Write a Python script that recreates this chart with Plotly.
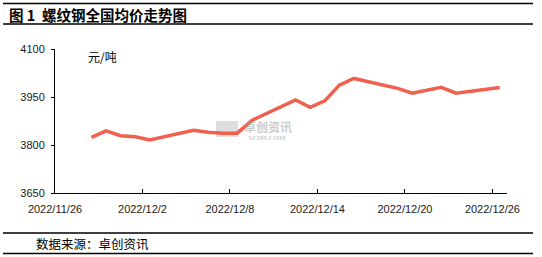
import plotly.graph_objects as go

# ---- data ----
dates = ["2022-11-28", "2022-11-29", "2022-11-30", "2022-12-01", "2022-12-02",
         "2022-12-05", "2022-12-06", "2022-12-07", "2022-12-08", "2022-12-09",
         "2022-12-12", "2022-12-13", "2022-12-14", "2022-12-15", "2022-12-16",
         "2022-12-19", "2022-12-20", "2022-12-21", "2022-12-22", "2022-12-23",
         "2022-12-26"]
prices = [3824, 3844, 3829, 3826, 3816,
          3846, 3840, 3837, 3837, 3877,
          3941, 3918, 3938, 3987, 4008,
          3977, 3962, 3971, 3980, 3962,
          3980]
title_text = "图 1  螺纹钢全国均价走势图"
unit_text = "元/吨"
source_text = "数据来源：卓创资讯"

# ---- layout geometry (pixels) ----
W, H = 542, 257
L, R, T, B = 55, 507, 49, 193


def px(x):
    return (x - L) / (R - L)


def py(y):
    return (B - y) / (B - T)


fig = go.Figure(go.Scatter(
    x=dates, y=prices, mode="lines",
    line=dict(color="#F0604E", width=3.5),
    xperiod=86400000, xperiodalignment="middle",
    hoverinfo="skip",
))

tickfont = dict(family="Liberation Sans, Arial, sans-serif", size=11, color="#1a1a1a")

fig.update_layout(
    width=W, height=H,
    margin=dict(l=L, r=W - R, t=T, b=H - B),
    paper_bgcolor="white", plot_bgcolor="white",
    showlegend=False,
    xaxis=dict(
        type="date", range=["2022-11-26", "2022-12-27"],
        tick0="2022-11-26", dtick=6 * 86400000, tickformat="%Y/%-m/%-d",
        ticks="inside", ticklen=4, tickcolor="black",
        ticklabelstandoff=6,
        showline=True, linecolor="black", linewidth=1,
        showgrid=False, zeroline=False, tickfont=tickfont,
        fixedrange=True,
    ),
    yaxis=dict(
        range=[3650, 4100], tick0=3650, dtick=150, tickformat="d",
        ticks="outside", ticklen=3, tickcolor="black",
        ticklabelstandoff=4,
        showline=True, linecolor="black", linewidth=1,
        showgrid=False, zeroline=False, tickfont=tickfont,
        fixedrange=True,
    ),
)

cjk = "Noto Sans CJK SC, sans-serif"
wm = "rgba(150,150,150,0.5)"
ann = [
    dict(text="<b>" + title_text + "</b>", x=px(7), y=py(14), xanchor="left", yanchor="middle",
         font=dict(family=cjk, size=14.5, color="black")),
    dict(text=unit_text, x=px(86), y=py(56), xanchor="left", yanchor="middle",
         font=dict(family=cjk, size=12, color="black")),
    dict(text=source_text, x=px(34), y=py(243), xanchor="left", yanchor="middle",
         font=dict(family=cjk, size=12.5, color="black")),
    # watermark
    dict(text="<b>卓创资讯</b>", x=px(242), y=py(126), xanchor="left", yanchor="middle",
         font=dict(family=cjk, size=12, color=wm)),
    dict(text="<b>SCI99.COM</b>", x=px(246), y=py(137.5), xanchor="left", yanchor="middle",
         font=dict(family="Liberation Serif, serif", size=7, color=wm)),
]
for a in ann:
    a.update(xref="paper", yref="paper", showarrow=False)
fig.update_layout(annotations=ann)

shapes = []
for yy in (3.5, 24, 233, 253.5):
    shapes.append(dict(type="line", xref="paper", yref="paper",
                       x0=px(3), x1=px(533), y0=py(yy), y1=py(yy),
                       line=dict(color="black", width=1.5)))
# watermark logo block
shapes.append(dict(type="rect", xref="paper", yref="paper",
                   x0=px(216), x1=px(238), y0=py(121), y1=py(137),
                   line=dict(width=0), fillcolor="rgba(160,160,160,0.35)", layer="below"))
fig.update_layout(shapes=shapes)

fig.write_html("out.html", config={"displayModeBar": False})
